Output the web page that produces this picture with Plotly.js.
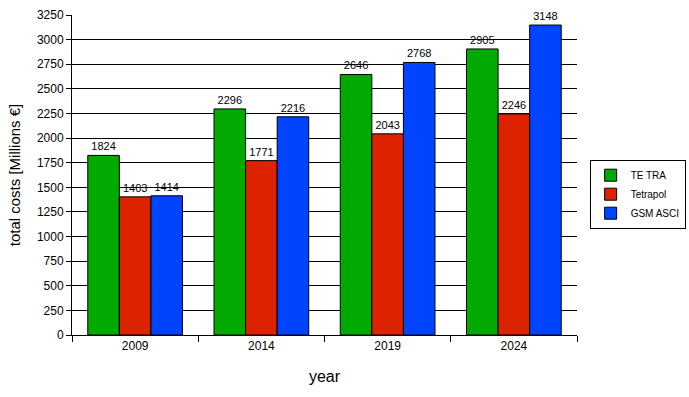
<!DOCTYPE html>
<html>
<head>
<meta charset="utf-8">
<script src="https://cdn.plot.ly/plotly-3.0.1.min.js"></script>
<style>html,body{margin:0;padding:0;background:#fff;}#chart{width:689px;height:397px;}</style>
</head>
<body>
<div id="chart"></div>
<script>
const years = ["2009", "2014", "2019", "2024"];
const seriesNames = ["TE TRA", "Tetrapol", "GSM ASCI"];
const tetra = [1824, 2296, 2646, 2905];
const tetrapol = [1403, 1771, 2043, 2246];
const gsmAsci = [1414, 2216, 2768, 3148];
const colors = ["#00AA00", "#DD2200", "#0044FF"];

const allSeries = [tetra, tetrapol, gsmAsci];
const traces = allSeries.map((vals, i) => ({
  type: "bar",
  name: seriesNames[i],
  x: years,
  y: vals,
  text: vals.map(String),
  textposition: "outside",
  cliponaxis: false,
  textfont: {family: "Liberation Sans, Arial, sans-serif", size: 11, color: "#000"},
  marker: {color: colors[i], line: {color: "#000", width: 1}}
}));

const layout = {
  width: 689, height: 397,
  margin: {l: 72, r: 112, t: 15, b: 62, autoexpand: false},
  paper_bgcolor: "#fff", plot_bgcolor: "#fff",
  barmode: "group", bargap: 0.25, bargroupgap: 0,
  font: {family: "Liberation Sans, Arial, sans-serif", size: 12, color: "#000"},
  xaxis: {
    type: "category",
    tickson: "boundaries",
    ticks: "outside", ticklen: 6, tickcolor: "#000",
    showline: true, linecolor: "#000", linewidth: 1,
    showgrid: false,
    tickfont: {size: 12},
    title: {text: "year", font: {size: 16}, standoff: 18}
  },
  yaxis: {
    range: [0, 3250], dtick: 250, tick0: 0,
    ticks: "outside", ticklen: 5, tickcolor: "#000",
    showline: true, linecolor: "#000", linewidth: 1,
    showgrid: true, gridcolor: "#000", gridwidth: 1,
    zeroline: false,
    tickfont: {size: 12},
    title: {text: "total costs [Millions €]", font: {size: 15}, standoff: 12}
  },
  legend: {
    x: 1.025, xanchor: "left", y: 0.44, yanchor: "middle",
    bordercolor: "#000", borderwidth: 1, bgcolor: "#fff",
    font: {size: 10}, traceorder: "normal",
    itemwidth: 30
  },
  showlegend: true
};

Plotly.newPlot("chart", traces, layout, {displayModeBar: false, staticPlot: true});
</script>
</body>
</html>
